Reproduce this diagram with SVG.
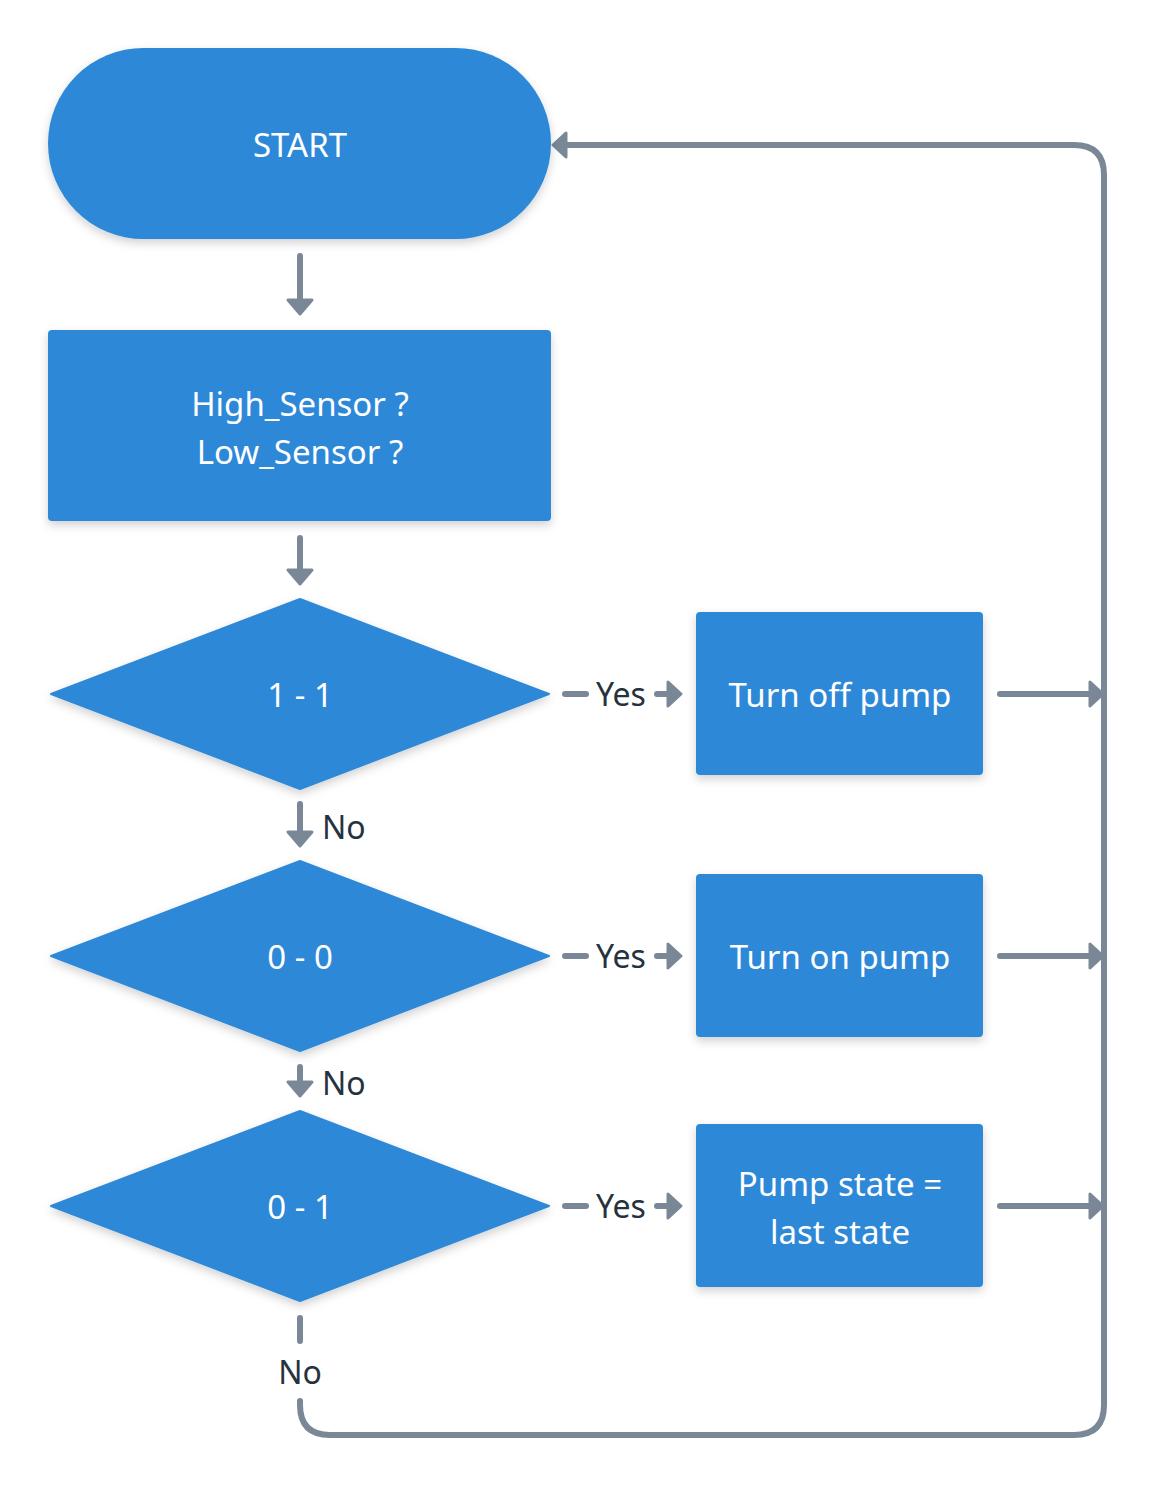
<svg xmlns="http://www.w3.org/2000/svg" width="1160" height="1490" viewBox="0 0 1160 1490">
<style>
.n{fill:#2e88d8;filter:url(#sh)}
.t{fill:#ffffff;font-family:"Noto Sans","Open Sans",sans-serif;font-size:33px;text-anchor:middle}
.l{fill:#26323e;font-family:"Noto Sans","Open Sans",sans-serif;font-size:32px}
.c{fill:none;stroke:#7a8796;stroke-width:6;stroke-linecap:round;stroke-linejoin:round}
.h{fill:#7a8796;stroke:#7a8796;stroke-width:3;stroke-linejoin:round}
</style>
<defs>
<filter id="sh" x="-10%" y="-10%" width="120%" height="130%">
<feDropShadow dx="0" dy="4" stdDeviation="5" flood-color="#000" flood-opacity="0.18"/>
</filter>
</defs>
<rect width="1160" height="1490" fill="#ffffff"/>
<g id="connectors">
<path class="c" d="M300 256 V300"/><path class="h" d="M288 300 L312 300 L300 314 Z"/>
<path class="c" d="M300 538 V570"/><path class="h" d="M288 570 L312 570 L300 584 Z"/>
<path class="c" d="M300 804 V832"/><path class="h" d="M288 832 L312 832 L300 846 Z"/>
<path class="c" d="M300 1067 V1082"/><path class="h" d="M288 1082 L312 1082 L300 1096 Z"/>
<path class="c" d="M565 694 H586"/><path class="c" d="M657 694 H668"/><path class="h" d="M668 682 L668 706 L681 694 Z"/>
<path class="c" d="M565 956 H586"/><path class="c" d="M657 956 H668"/><path class="h" d="M668 944 L668 968 L681 956 Z"/>
<path class="c" d="M565 1206 H586"/><path class="c" d="M657 1206 H668"/><path class="h" d="M668 1194 L668 1218 L681 1206 Z"/>
<path class="c" d="M1000 694 H1090"/><path class="h" d="M1090 682 L1090 706 L1103 694 Z"/>
<path class="c" d="M1000 956 H1090"/><path class="h" d="M1090 944 L1090 968 L1103 956 Z"/>
<path class="c" d="M1000 1206 H1090"/><path class="h" d="M1090 1194 L1090 1218 L1103 1206 Z"/>
<path class="c" d="M300 1318 V1341"/>
<path class="c" d="M300 1401 V1405 Q300 1435 330 1435 H1074 Q1104 1435 1104 1405 V175 Q1104 145 1074 145 H566"/>
<path class="h" d="M566 133 L566 157 L553 145 Z"/>
<text class="l" x="596" y="706">Yes</text>
<text class="l" x="596" y="968">Yes</text>
<text class="l" x="596" y="1218">Yes</text>
<text class="l" x="322" y="839">No</text>
<text class="l" x="322" y="1095">No</text>
<text class="l" x="300" y="1384" text-anchor="middle">No</text>
</g>
<g id="start"><rect class="n" x="48" y="48" width="503" height="191" rx="95.5"/><text class="t" x="300" y="157">START</text></g>
<g id="sensors"><rect class="n" x="48" y="330" width="503" height="191" rx="4"/><text class="t" x="300" y="416">High_Sensor ?</text><text class="t" x="300" y="464">Low_Sensor ?</text></g>
<g id="d1"><polygon class="n" points="300,599 549,694 300,789 51,694" stroke="#2e88d8" stroke-width="2" stroke-linejoin="round"/><text class="t" x="300" y="707">1 - 1</text></g>
<g id="d2"><polygon class="n" points="300,861 549,956 300,1051 51,956" stroke="#2e88d8" stroke-width="2" stroke-linejoin="round"/><text class="t" x="300" y="969">0 - 0</text></g>
<g id="d3"><polygon class="n" points="300,1111 549,1206 300,1301 51,1206" stroke="#2e88d8" stroke-width="2" stroke-linejoin="round"/><text class="t" x="300" y="1219">0 - 1</text></g>
<g id="off"><rect class="n" x="696" y="612" width="287" height="163" rx="4"/><text class="t" x="840" y="707">Turn off pump</text></g>
<g id="on"><rect class="n" x="696" y="874" width="287" height="163" rx="4"/><text class="t" x="840" y="969">Turn on pump</text></g>
<g id="last"><rect class="n" x="696" y="1124" width="287" height="163" rx="4"/><text class="t" x="840" y="1196">Pump state =</text><text class="t" x="840" y="1244">last state</text></g>
</svg>
